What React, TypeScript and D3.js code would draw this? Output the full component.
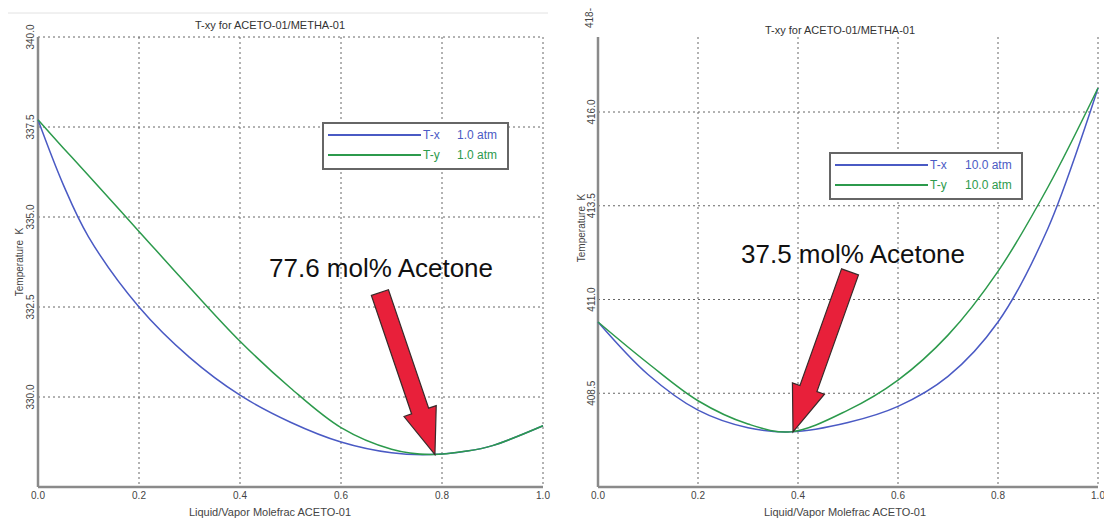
import React, {useEffect, useRef} from 'react';
import * as d3 from "d3"

// molefrac of acetone, shared by both curves in a panel
const leftMolefrac = [0, 0.05, 0.1, 0.2, 0.3, 0.4, 0.5, 0.6, 0.7, 0.776, 0.85, 0.9, 1.0]
const leftTx = [337.7, 335.9, 334.45, 332.5, 331.1, 330.05, 329.3, 328.75, 328.45, 328.4, 328.5, 328.65, 329.2]
const leftTy = [337.7, 336.92, 336.15, 334.6, 333.05, 331.55, 330.25, 329.15, 328.55, 328.4, 328.5, 328.65, 329.2]
const leftYTicks = [330, 332.5, 335, 337.5, 340]

const rightMolefrac = [0, 0.1, 0.2, 0.3, 0.385, 0.5, 0.6, 0.7, 0.8, 0.9, 1.0]
const rightTx = [410.4, 409.0, 408.05, 407.58, 407.47, 407.72, 408.15, 408.95, 410.4, 412.9, 416.64]
const rightTy = [410.4, 409.3, 408.3, 407.68, 407.47, 408.05, 408.85, 410.05, 411.75, 414.0, 416.64]
const rightYTicks = [408.5, 411, 413.5, 416]

const xTicks = [0, 0.2, 0.4, 0.6, 0.8, 1.0]

const FONT = "Liberation Sans, Arial, sans-serif"
const BLUE = "#4a5ac4"
const GREEN = "#2c9a4c"

function drawPanel(svg, p) {
    const top = 37, bottom = 487
    const x = d3.scaleLinear().domain([0, 1]).range([p.left, p.right])
    const y = d3.scaleLinear().domain(p.yDomain).range([bottom, top])
    const g = svg.append("g")

    //title
    g.append("text").attr("x", p.titleX).attr("y", p.titleY)
        .attr("text-anchor", "middle").attr("font-size", 11).attr("fill", "#333")
        .text("T-xy for ACETO-01/METHA-01")

    //grid
    g.selectAll(".vgrid").data(xTicks.slice(1)).join("line")
        .attr("x1", d => x(d)).attr("x2", d => x(d))
        .attr("y1", top).attr("y2", bottom)
        .attr("stroke", "#666").attr("stroke-dasharray", "2,3")
    g.selectAll(".hgrid").data(p.yTicks).join("line")
        .attr("x1", p.left).attr("x2", p.right)
        .attr("y1", d => y(d)).attr("y2", d => y(d))
        .attr("stroke", "#666").attr("stroke-dasharray", "2,3")

    //axes
    g.append("line").attr("x1", p.left).attr("x2", p.left).attr("y1", top).attr("y2", bottom)
        .attr("stroke", "#8a8a8a").attr("stroke-width", 2.5)
    g.append("line").attr("x1", p.left).attr("x2", p.right).attr("y1", bottom).attr("y2", bottom)
        .attr("stroke", "#8a8a8a").attr("stroke-width", 2.5)

    g.selectAll(".xlab").data(xTicks).join("text")
        .attr("x", d => x(d)).attr("y", 499)
        .attr("text-anchor", "middle").attr("font-size", 10).attr("fill", "#444")
        .text(d => d3.format(".1f")(d))
    g.selectAll(".ylab").data(p.yTicks).join("text")
        .attr("transform", d => `translate(${p.tickX},${y(d)}) rotate(-90)`)
        .attr("text-anchor", "middle").attr("font-size", 10).attr("fill", "#444")
        .text(d => d3.format(".1f")(d))
    if (p.topLabel) {
        g.append("text")
            .attr("transform", `translate(${p.tickX - 2},${top - 19}) rotate(-90)`)
            .attr("text-anchor", "middle").attr("font-size", 10).attr("fill", "#444")
            .text(p.topLabel)
    }
    g.append("text")
        .attr("transform", `translate(${p.ylabX},${p.ylabY}) rotate(-90)`)
        .attr("text-anchor", "middle").attr("font-size", 10).attr("fill", "#444")
        .attr("xml:space", "preserve")
        .text("Temperature  K")
    g.append("text").attr("x", p.xlabX).attr("y", 516)
        .attr("text-anchor", "middle").attr("font-size", 11).attr("fill", "#444")
        .text("Liquid/Vapor Molefrac ACETO-01")

    //curves
    const line = d3.line()
        .x(d => x(d[0])).y(d => y(d[1]))
        .curve(d3.curveCatmullRom.alpha(0.5))
    const series = [
        {vals: p.tx, color: BLUE},
        {vals: p.ty, color: GREEN},
    ]
    g.selectAll(".curve").data(series).join("path")
        .attr("d", s => line(p.molefrac.map((m, i) => [m, s.vals[i]])))
        .attr("fill", "none").attr("stroke", s => s.color).attr("stroke-width", 1.5)

    //legend
    const lg = g.append("g").attr("transform", `translate(${p.legend[0]},${p.legend[1]})`)
    lg.append("rect").attr("x", 0).attr("y", 0).attr("width", p.legendW).attr("height", 46)
        .attr("fill", "white").attr("stroke", "#666").attr("stroke-width", 2)
    const entries = [{name: "T-x", color: BLUE}, {name: "T-y", color: GREEN}]
    entries.forEach((e, i) => {
        const ly = 12 + i * 20
        lg.append("line").attr("x1", 5).attr("x2", 98).attr("y1", ly).attr("y2", ly)
            .attr("stroke", e.color).attr("stroke-width", 2)
        lg.append("text").attr("x", 100).attr("y", ly + 4).attr("font-size", 12).attr("fill", e.color)
            .text(e.name)
        lg.append("text").attr("x", p.atmX).attr("y", ly + 4).attr("font-size", 12).attr("fill", e.color)
            .text(p.pressure)
    })

    //annotation arrow pointing at the azeotrope
    const tip = [x(p.azeo[0]), y(p.azeo[1])]
    const tail = [tip[0] + p.tailOffset[0], tip[1] + p.tailOffset[1]]
    const dx = tip[0] - tail[0], dy = tip[1] - tail[1]
    const len = Math.hypot(dx, dy)
    const ux = dx / len, uy = dy / len, nx = -uy, ny = ux
    const sw = 9, hw = 17, hl = 46
    const base = [tip[0] - ux * hl, tip[1] - uy * hl]
    const pts = [
        [tail[0] + nx * sw, tail[1] + ny * sw],
        [base[0] + nx * sw, base[1] + ny * sw],
        [base[0] + nx * hw, base[1] + ny * hw],
        tip,
        [base[0] - nx * hw, base[1] - ny * hw],
        [base[0] - nx * sw, base[1] - ny * sw],
        [tail[0] - nx * sw, tail[1] - ny * sw],
    ]
    g.append("polygon").attr("points", pts.map(q => q.join(",")).join(" "))
        .attr("fill", "#e8203a").attr("stroke", "#3a2a2a").attr("stroke-width", 1.2)
        .attr("stroke-linejoin", "miter")
    g.append("text").attr("x", p.noteX).attr("y", p.noteY)
        .attr("font-size", 26).attr("fill", "#111")
        .text(p.note)
}

const App = () => {
    const svgRef = useRef(null)
    useEffect(() => {
        const svg = d3.select(svgRef.current)
        svg.selectAll("*").remove()
        svg.append("rect").attr("width", 1104).attr("height", 520).attr("fill", "white")
        svg.append("line").attr("x1", 8).attr("x2", 548).attr("y1", 13).attr("y2", 13)
            .attr("stroke", "#e2e2e2")
        drawPanel(svg, {
            left: 38, right: 543, yDomain: [327.5, 340], yTicks: leftYTicks,
            molefrac: leftMolefrac, tx: leftTx, ty: leftTy,
            titleX: 270, titleY: 29, tickX: 34, ylabX: 23, ylabY: 262, xlabX: 270,
            legend: [323, 123], legendW: 185, atmX: 134, pressure: "1.0 atm",
            azeo: [0.786, 328.4], tailOffset: [-55, -162],
            note: "77.6 mol% Acetone", noteX: 269, noteY: 277,
        })
        drawPanel(svg, {
            left: 598, right: 1098, yDomain: [406, 418], yTicks: rightYTicks, topLabel: "418-",
            molefrac: rightMolefrac, tx: rightTx, ty: rightTy,
            titleX: 840, titleY: 34, tickX: 595, ylabX: 585, ylabY: 228, xlabX: 845,
            legend: [830, 153], legendW: 192, atmX: 135, pressure: "10.0 atm",
            azeo: [0.39, 407.47], tailOffset: [57, -160],
            note: "37.5 mol% Acetone", noteX: 741, noteY: 263,
        })
    }, [])

    return (
        <svg ref={svgRef} width={1104} height={520}
             style={{position: "absolute", left: 0, top: 0, fontFamily: FONT}}>
        </svg>
    );
};

export default App;
